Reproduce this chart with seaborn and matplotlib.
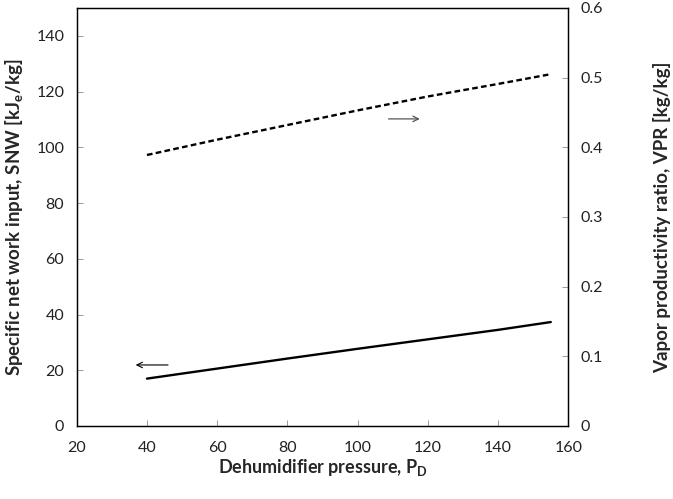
import numpy as np
import matplotlib
matplotlib.use("Agg")
import matplotlib.pyplot as plt
import pandas as pd
import seaborn as sns

# data
pressure = [40, 60, 80, 100, 120, 140, 155]
snw = [17.0, 20.6, 24.2, 27.7, 31.1, 34.5, 37.3]
vpr = [0.389, 0.411, 0.432, 0.453, 0.473, 0.491, 0.505]

df = pd.DataFrame({"P": pressure, "SNW": snw, "VPR": vpr})

sns.set_style("ticks")
plt.rcParams['font.family'] = ['Lato', 'DejaVu Sans']
plt.rcParams['mathtext.fontset'] = 'custom'
plt.rcParams['mathtext.rm'] = 'Lato'
plt.rcParams['mathtext.bf'] = 'Lato:bold'

fig = plt.figure(figsize=(6.73, 4.99), dpi=100)
ax1 = fig.add_axes([0.114, 0.1463, 0.7305, 0.8377])
ax2 = ax1.twinx()

sns.lineplot(data=df, x="P", y="SNW", ax=ax1, color="black", linewidth=1.7)
sns.lineplot(data=df, x="P", y="VPR", ax=ax2, color="black", linewidth=1.7,
             linestyle=(0, (2.4, 1.4)))

ax1.set_xlim(20, 160)
ax1.set_ylim(0, 150)
ax2.set_ylim(0, 0.6)
ax1.set_xticks(np.arange(20, 161, 20))
ax1.set_yticks(np.arange(0, 141, 20))
ax2.set_yticks(np.arange(0, 0.61, 0.1))
ax2.set_yticklabels(["0", "0.1", "0.2", "0.3", "0.4", "0.5", "0.6"])

for ax in (ax1, ax2):
    for s in ax.spines.values():
        s.set_visible(True)
        s.set_color("black")
        s.set_linewidth(0.9)
ax1.tick_params(axis="x", direction="in", length=4, width=0.6, color="#888888",
                labelsize=11.5, pad=11, top=False, labelcolor="#222222")
ax1.tick_params(axis="y", direction="in", length=4, width=0.6, color="#888888",
                labelsize=11.5, pad=9, right=False, labelcolor="#222222")
ax2.tick_params(axis="y", direction="in", length=4, width=0.6, color="#888888",
                labelsize=11.5, pad=9, left=False, labelcolor="#222222")

ax1.set_xlabel(r"Dehumidifier pressure, P$_\mathbf{D}$", fontsize=13, fontweight="bold", labelpad=1)
ax1.set_ylabel(r"Specific net work input, SNW [kJ$_\mathbf{e}$/kg]", fontsize=13.5,
               fontweight="bold", labelpad=7)
ax2.set_ylabel("Vapor productivity ratio, VPR [kg/kg]", fontsize=13.5, fontweight="bold",
               labelpad=36)

# arrows pointing to each axis
ax1.annotate("", xy=(118.5, 110.2), xytext=(108, 110.2),
             arrowprops=dict(arrowstyle="->", color="#555555", lw=0.9))
ax1.annotate("", xy=(36, 21.9), xytext=(46.8, 21.9),
             arrowprops=dict(arrowstyle="->", color="black", lw=0.8))

plt.savefig("out.png", dpi=100)
